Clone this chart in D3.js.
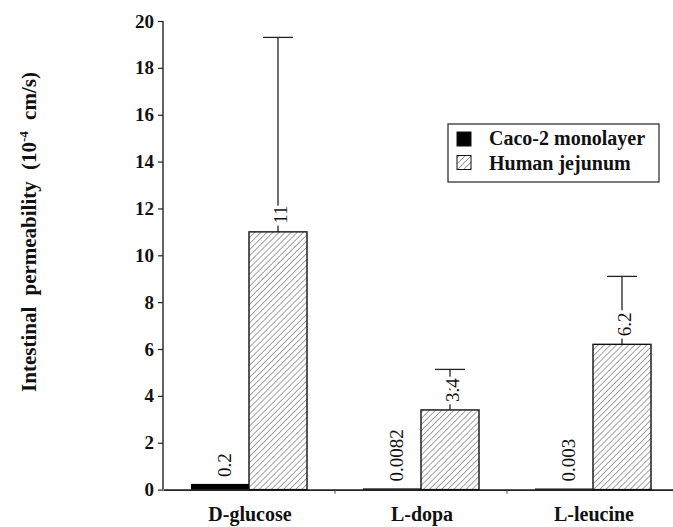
<!DOCTYPE html>
<html>
<head>
<meta charset="utf-8">
<script src="https://cdn.jsdelivr.net/npm/d3@7"></script>
<style>
  body { margin: 0; background: #fff; }
  svg { display: block; }
</style>
</head>
<body>
<svg id="chart" width="673" height="527"></svg>
<script>
// Compounds and measured permeabilities (10^-4 cm/s)
const categories = ["D-glucose", "L-dopa", "L-leucine"];
const seriesNames = ["Caco-2 monolayer", "Human jejunum"];
const cacoValues = [0.2, 0.0082, 0.003];
const jejunumValues = [11, 3.4, 6.2];
const jejunumUpper = [19.3, 5.13, 9.1];   // mean + SD (error bar tops)
const cacoLabels = ["0.2", "0.0082", "0.003"];
const jejunumLabels = ["11", "3.4", "6.2"];
const yTicks = [0, 2, 4, 6, 8, 10, 12, 14, 16, 18, 20];

const FONT = "Liberation Serif";
const svg = d3.select("#chart");
const x0 = 163, x1 = 679, yTop = 21, yBottom = 489.6;

const x = d3.scaleBand().domain(categories).range([x0, x1]).padding(0);
const xs = d3.scaleBand().domain(seriesNames).range([-58, 58]).padding(0);
const y = d3.scaleLinear().domain([0, 20]).range([yBottom, yTop]);

// hatch pattern for jejunum bars
const defs = svg.append("defs");
defs.append("pattern")
  .attr("id", "hatch").attr("patternUnits", "userSpaceOnUse")
  .attr("width", 4.3).attr("height", 4.3)
  .attr("patternTransform", "rotate(45)")
  .append("line").attr("x1", 0).attr("y1", 0).attr("x2", 0).attr("y2", 4.3)
  .attr("stroke", "#333").attr("stroke-width", 0.9);

// y axis
const yAxis = svg.append("g")
  .attr("transform", `translate(${x0},0)`)
  .call(d3.axisLeft(y).tickValues(yTicks).tickSize(5).tickPadding(4).tickFormat(d3.format("d")));
yAxis.attr("font-family", null).attr("font-size", null);
yAxis.select(".domain").attr("stroke", "#222").attr("stroke-width", 1.4).attr("d", `M-0,${yTop}H0V${yBottom}`);
yAxis.selectAll(".tick line").attr("stroke", "#222").attr("stroke-width", 1.2);
yAxis.selectAll(".tick text").attr("fill", "#111")
  .attr("font-family", FONT).attr("font-size", 19).attr("font-weight", "bold");

// x axis baseline with small separators
const xAxis = svg.append("g").attr("transform", `translate(0,${yBottom})`)
  .call(d3.axisBottom(x).tickSize(0).tickFormat(""));
xAxis.select(".domain").attr("stroke", "#222").attr("stroke-width", 1.6);
xAxis.selectAll(".tick").remove();
xAxis.selectAll("line.sep").data(categories.slice(1)).join("line")
  .attr("class", "sep")
  .attr("x1", d => x(d)).attr("x2", d => x(d))
  .attr("y1", 0).attr("y2", 4).attr("stroke", "#444").attr("stroke-width", 1);

svg.append("g").selectAll("text").data(categories).join("text")
  .attr("x", d => x(d) + x.bandwidth() / 2 + 1)
  .attr("y", 521)
  .attr("text-anchor", "middle")
  .attr("font-family", FONT).attr("font-size", 20).attr("font-weight", "bold").attr("fill", "#111")
  .text(d => d);

const cx = (cat, s) => x(cat) + x.bandwidth() / 2 + xs(s) + xs.bandwidth() / 2;

// Caco-2 bars
svg.append("g").selectAll("rect").data(categories).join("rect")
  .attr("x", d => x(d) + x.bandwidth() / 2 + xs(seriesNames[0]))
  .attr("width", xs.bandwidth())
  .attr("y", (d, i) => y(cacoValues[i]) - 1)
  .attr("height", (d, i) => yBottom - y(cacoValues[i]) + 1)
  .attr("fill", "#000");

// jejunum error bars (vertical line + cap)
const err = svg.append("g").attr("stroke", "#222").attr("stroke-width", 1.3);
err.selectAll("line.v").data(categories).join("line").attr("class", "v")
  .attr("x1", d => cx(d, seriesNames[1])).attr("x2", d => cx(d, seriesNames[1]))
  .attr("y1", (d, i) => y(jejunumValues[i])).attr("y2", (d, i) => y(jejunumUpper[i]));
err.selectAll("line.cap").data(categories).join("line").attr("class", "cap")
  .attr("x1", d => cx(d, seriesNames[1]) - 15).attr("x2", d => cx(d, seriesNames[1]) + 15)
  .attr("y1", (d, i) => y(jejunumUpper[i])).attr("y2", (d, i) => y(jejunumUpper[i]));

// jejunum bars
svg.append("g").selectAll("rect").data(categories).join("rect")
  .attr("x", d => x(d) + x.bandwidth() / 2 + xs(seriesNames[1]))
  .attr("width", xs.bandwidth())
  .attr("y", (d, i) => y(jejunumValues[i]))
  .attr("height", (d, i) => yBottom - y(jejunumValues[i]))
  .attr("fill", "url(#hatch)").attr("stroke", "#111").attr("stroke-width", 1.4);

// rotated value labels, with a white halo that breaks the error line
function valueLabels(values, labels, series, dx) {
  svg.append("g").selectAll("text").data(categories).join("text")
    .attr("transform", (d, i) => `translate(${cx(d, series) + dx},${y(values[i]) - 8}) rotate(-90)`)
    .attr("dy", "0.35em")
    .attr("font-family", FONT).attr("font-size", 19).attr("fill", "#111")
    .attr("stroke", "#fff").attr("stroke-width", 7).attr("paint-order", "stroke")
    .text((d, i) => labels[i]);
}
valueLabels(cacoValues, cacoLabels, seriesNames[0], 4);
valueLabels(jejunumValues, jejunumLabels, seriesNames[1], 2);

// y axis title
svg.append("text")
  .attr("transform", `translate(36,232) rotate(-90)`)
  .attr("text-anchor", "middle")
  .attr("font-family", FONT).attr("font-size", 21).attr("font-weight", "bold").attr("fill", "#111")
  .attr("word-spacing", 6)
  .html('Intestinal permeability (10<tspan dy="-8" font-size="13">-4</tspan><tspan dy="8"> cm/s)</tspan>');

// legend
const lg = svg.append("g");
lg.append("rect").attr("x", 448).attr("y", 124).attr("width", 211).attr("height", 58)
  .attr("fill", "#fff").attr("stroke", "#222").attr("stroke-width", 1.2);
lg.selectAll("rect.sw").data(seriesNames).join("rect").attr("class", "sw")
  .attr("x", 457).attr("y", (d, i) => 132 + i * 23.5).attr("width", 14).attr("height", 14)
  .attr("fill", (d, i) => i === 0 ? "#000" : "url(#hatch)")
  .attr("stroke", "#111").attr("stroke-width", 1);
lg.selectAll("text").data(seriesNames).join("text")
  .attr("x", 489).attr("y", (d, i) => 145 + i * 24.5)
  .attr("font-family", FONT).attr("font-size", 20).attr("font-weight", "bold").attr("fill", "#111")
  .text(d => d);
</script>
</body>
</html>
